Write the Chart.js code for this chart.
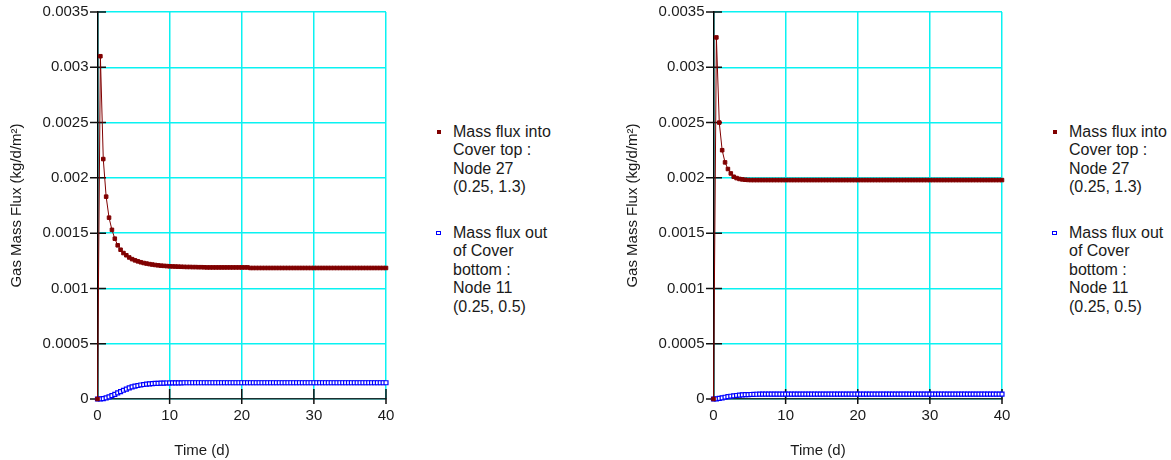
<!DOCTYPE html>
<html>
<head>
<meta charset="utf-8">
<script src="https://cdn.jsdelivr.net/npm/chart.js@4.4.1/dist/chart.umd.min.js"></script>
<style>
  html, body { margin: 0; padding: 0; background: #fff; }
  body { width: 1171px; height: 460px; position: relative; overflow: hidden;
         font-family: "Liberation Sans", Arial, sans-serif; color: #1a1a1a; }
  .panel { position: absolute; top: 0; width: 430px; height: 460px; }
  .panel canvas { position: absolute; left: 0; top: 0; }
  .entry { position: absolute; left: 453px; font-size: 16px; line-height: 18.6px; white-space: nowrap; }
  .mark { position: absolute; box-sizing: border-box; }
</style>
</head>
<body>
<div class="panel" id="panelA" style="left:0px"><canvas id="chartA" width="420" height="460"></canvas></div>
<div class="panel" id="panelB" style="left:616px"><canvas id="chartB" width="420" height="460"></canvas></div>
<script>
// Output times (days)
const timeDays = [
  0, 0.4, 0.8, 1.2, 1.6, 2, 2.4, 2.8, 3.2, 3.6,
  4, 4.4, 4.8, 5.2, 5.6, 6, 6.4, 6.8, 7.2, 7.6,
  8, 8.4, 8.8, 9.2, 9.6, 10, 10.4, 10.8, 11.2, 11.6,
  12, 12.4, 12.8, 13.2, 13.6, 14, 14.4, 14.8, 15.2, 15.6,
  16, 16.4, 16.8, 17.2, 17.6, 18, 18.4, 18.8, 19.2, 19.6,
  20, 20.4, 20.8, 21.2, 21.6, 22, 22.4, 22.8, 23.2, 23.6,
  24, 24.4, 24.8, 25.2, 25.6, 26, 26.4, 26.8, 27.2, 27.6,
  28, 28.4, 28.8, 29.2, 29.6, 30, 30.4, 30.8, 31.2, 31.6,
  32, 32.4, 32.8, 33.2, 33.6, 34, 34.4, 34.8, 35.2, 35.6,
  36, 36.4, 36.8, 37.2, 37.6, 38, 38.4, 38.8, 39.2, 39.6,
  40
];

// Case A: mass flux into cover top (node 27), kg/d/m²
const topFluxA = [
  0, 0.0031, 0.00217, 0.00183, 0.00164, 0.00153, 0.00145, 0.00139, 0.00135, 0.00132,
  0.0013, 0.00128, 0.001265, 0.001254, 0.001245, 0.001237, 0.00123, 0.001225, 0.00122, 0.001216,
  0.001212, 0.001209, 0.001206, 0.001204, 0.001202, 0.0012, 0.001199, 0.001198, 0.001197, 0.001196,
  0.001195, 0.001194, 0.001194, 0.001193, 0.001193, 0.001192, 0.001192, 0.001191, 0.00119, 0.00119,
  0.00119, 0.00119, 0.00119, 0.00119, 0.00119, 0.00119, 0.00119, 0.00119, 0.00119, 0.00119,
  0.00119, 0.00119, 0.00119, 0.001185, 0.001185, 0.001185, 0.001185, 0.001185, 0.001185, 0.001185,
  0.001185, 0.001185, 0.001185, 0.001185, 0.001185, 0.001185, 0.001185, 0.001185, 0.001185, 0.001185,
  0.001185, 0.001185, 0.001185, 0.001185, 0.001185, 0.001185, 0.001185, 0.001185, 0.001185, 0.001185,
  0.001185, 0.001185, 0.001185, 0.001185, 0.001185, 0.001185, 0.001185, 0.001185, 0.001185, 0.001185,
  0.001185, 0.001185, 0.001185, 0.001185, 0.001185, 0.001185, 0.001185, 0.001185, 0.001185, 0.001185,
  0.001185
];

// Case A: mass flux out of cover bottom (node 11), kg/d/m²
const bottomFluxA = [
  0, 0.000001, 0.000004, 0.00001, 0.000019, 0.00003, 0.000042, 0.000055, 0.000067, 0.000079,
  0.00009, 0.0001, 0.000109, 0.000116, 0.000122, 0.000127, 0.000131, 0.000134, 0.000137, 0.000139,
  0.000141, 0.000142, 0.000143, 0.000144, 0.000145, 0.000145, 0.000146, 0.000146, 0.000146, 0.000146,
  0.000147, 0.000147, 0.000147, 0.000147, 0.000147, 0.000147, 0.000147, 0.000147, 0.000147, 0.000147,
  0.000147, 0.000147, 0.000147, 0.000147, 0.000147, 0.000147, 0.000147, 0.000147, 0.000147, 0.000147,
  0.000147, 0.000147, 0.000147, 0.000147, 0.000147, 0.000147, 0.000147, 0.000147, 0.000147, 0.000147,
  0.000147, 0.000147, 0.000147, 0.000147, 0.000147, 0.000147, 0.000147, 0.000147, 0.000147, 0.000147,
  0.000147, 0.000147, 0.000147, 0.000147, 0.000147, 0.000147, 0.000147, 0.000147, 0.000147, 0.000147,
  0.000147, 0.000147, 0.000147, 0.000147, 0.000147, 0.000147, 0.000147, 0.000147, 0.000147, 0.000147,
  0.000147, 0.000147, 0.000147, 0.000147, 0.000147, 0.000147, 0.000147, 0.000147, 0.000147, 0.000147,
  0.000147
];

// Case B: mass flux into cover top (node 27), kg/d/m²
const topFluxB = [
  0, 0.00327, 0.0025, 0.00225, 0.00214, 0.00208, 0.00204, 0.00201, 0.001998, 0.00199,
  0.001986, 0.001983, 0.001981, 0.00198, 0.00198, 0.00198, 0.00198, 0.00198, 0.00198, 0.00198,
  0.00198, 0.00198, 0.00198, 0.00198, 0.00198, 0.00198, 0.00198, 0.00198, 0.00198, 0.00198,
  0.00198, 0.00198, 0.00198, 0.00198, 0.00198, 0.00198, 0.00198, 0.00198, 0.00198, 0.00198,
  0.00198, 0.00198, 0.00198, 0.00198, 0.00198, 0.00198, 0.00198, 0.00198, 0.00198, 0.00198,
  0.00198, 0.00198, 0.00198, 0.00198, 0.00198, 0.00198, 0.00198, 0.00198, 0.00198, 0.00198,
  0.00198, 0.00198, 0.00198, 0.00198, 0.00198, 0.00198, 0.00198, 0.00198, 0.00198, 0.00198,
  0.00198, 0.00198, 0.00198, 0.00198, 0.00198, 0.00198, 0.00198, 0.00198, 0.00198, 0.00198,
  0.00198, 0.00198, 0.00198, 0.00198, 0.00198, 0.00198, 0.00198, 0.00198, 0.00198, 0.00198,
  0.00198, 0.00198, 0.00198, 0.00198, 0.00198, 0.00198, 0.00198, 0.00198, 0.00198, 0.00198,
  0.00198
];

// Case B: mass flux out of cover bottom (node 11), kg/d/m²
const bottomFluxB = [
  0, 0.000001, 0.000005, 0.00001, 0.000016, 0.000021, 0.000025, 0.000029, 0.000032, 0.000035,
  0.000037, 0.000039, 0.00004, 0.000041, 0.000042, 0.000043, 0.000044, 0.000044, 0.000044, 0.000044,
  0.000044, 0.000044, 0.000044, 0.000044, 0.000044, 0.000044, 0.000044, 0.000044, 0.000044, 0.000044,
  0.000044, 0.000044, 0.000044, 0.000044, 0.000044, 0.000044, 0.000044, 0.000044, 0.000044, 0.000044,
  0.000044, 0.000044, 0.000044, 0.000044, 0.000044, 0.000044, 0.000044, 0.000044, 0.000044, 0.000044,
  0.000044, 0.000044, 0.000044, 0.000044, 0.000044, 0.000044, 0.000044, 0.000044, 0.000044, 0.000044,
  0.000044, 0.000044, 0.000044, 0.000044, 0.000044, 0.000044, 0.000044, 0.000044, 0.000044, 0.000044,
  0.000044, 0.000044, 0.000044, 0.000044, 0.000044, 0.000044, 0.000044, 0.000044, 0.000044, 0.000044,
  0.000044, 0.000044, 0.000044, 0.000044, 0.000044, 0.000044, 0.000044, 0.000044, 0.000044, 0.000044,
  0.000044, 0.000044, 0.000044, 0.000044, 0.000044, 0.000044, 0.000044, 0.000044, 0.000044, 0.000044,
  0.000044
];

// Axis ticks and labels
const xTickValues = [0, 10, 20, 30, 40];
const yTickValues = [0, 0.0005, 0.001, 0.0015, 0.002, 0.0025, 0.003, 0.0035];
const xAxisTitle = 'Time (d)';
const yAxisTitle = 'Gas Mass Flux (kg/d/m\u00B2)';
const topLabelLines = ['Mass flux into', 'Cover top :', 'Node 27', '(0.25, 1.3)'];
const bottomLabelLines = ['Mass flux out', 'of Cover', 'bottom :', 'Node 11', '(0.25, 0.5)'];

const FONT = '"Liberation Sans", Arial, sans-serif';
const TEXT = '#1a1a1a';
const GRID = '#0af2f2';
const RED = '#800000';
const BLUE = '#0000ff';

// Tick marks that cross the axes, plus the x-axis title
const axisMarks = {
  id: 'axisMarks',
  beforeDatasetsDraw(chart) {
    const { ctx, chartArea: a, scales: { x, y } } = chart;
    ctx.save();
    ctx.strokeStyle = '#111';
    ctx.lineWidth = 1.5;
    ctx.beginPath();
    y.ticks.forEach(t => {
      const py = y.getPixelForValue(t.value);
      ctx.moveTo(a.left - 7.5, py);
      ctx.lineTo(a.left + 8.5, py);
    });
    x.ticks.forEach(t => {
      if (t.value === 0) return;
      const px = x.getPixelForValue(t.value);
      ctx.moveTo(px, a.bottom - 10);
      ctx.lineTo(px, a.bottom + 5);
    });
    ctx.stroke();
    ctx.restore();
  },
  afterDraw(chart) {
    const { ctx } = chart;
    ctx.save();
    ctx.fillStyle = TEXT;
    ctx.font = '15px ' + FONT;
    ctx.textAlign = 'center';
    ctx.textBaseline = 'middle';
    ctx.fillText(xAxisTitle, 202, 451);
    ctx.restore();
  }
};

function toPoints(values) {
  return timeDays.map((t, i) => ({ x: t, y: values[i] }));
}

function buildPanel(canvasId, panelId, topFlux, bottomFlux) {
  new Chart(document.getElementById(canvasId), {
    type: 'line',
    data: {
      datasets: [
        {
          label: topLabelLines.join(' '),
          data: toPoints(topFlux),
          borderColor: RED,
          borderWidth: 1,
          backgroundColor: RED,
          pointStyle: 'rect',
          pointRadius: 2.5,
          pointBorderWidth: 1,
          pointBackgroundColor: RED,
          pointBorderColor: RED,
          tension: 0,
          clip: false
        },
        {
          label: bottomLabelLines.join(' '),
          data: toPoints(bottomFlux),
          borderColor: BLUE,
          borderWidth: 1,
          backgroundColor: '#ffffff',
          pointStyle: 'rect',
          pointRadius: 2.8,
          pointBorderWidth: 1.2,
          pointBackgroundColor: '#ffffff',
          pointBorderColor: BLUE,
          tension: 0,
          clip: false
        }
      ]
    },
    options: {
      responsive: false,
      animation: false,
      devicePixelRatio: 1,
      layout: { padding: { left: 0, top: 12, right: 34, bottom: 0 } },
      plugins: { legend: { display: false }, tooltip: { enabled: false } },
      scales: {
        x: {
          type: 'linear',
          min: 0,
          max: 40,
          afterBuildTicks: s => { s.ticks = xTickValues.map(v => ({ value: v })); },
          afterFit: s => { s.height = 61; },
          grid: { color: GRID, lineWidth: 1.5, drawTicks: false },
          border: { display: true, color: '#1c2f2f', width: 1.5 },
          ticks: { padding: 8, color: TEXT, font: { family: FONT, size: 15 }, maxRotation: 0 },
          title: { display: false }
        },
        y: {
          type: 'linear',
          min: 0,
          max: 0.0035,
          afterBuildTicks: s => { s.ticks = yTickValues.map(v => ({ value: v })); },
          afterFit: s => { s.width = 97.5; s.paddingTop = 0; s.paddingBottom = 0; },
          grid: { color: GRID, lineWidth: 1.5, drawTicks: false },
          border: { display: true, color: '#000', width: 1.5 },
          ticks: {
            padding: 9,
            color: TEXT,
            font: { family: FONT, size: 15 },
            callback: v => String(Number(v.toFixed(4)))
          },
          title: {
            display: true,
            text: yAxisTitle,
            color: TEXT,
            font: { family: FONT, size: 15 },
            padding: { top: 8, bottom: 0 }
          }
        }
      }
    },
    plugins: [axisMarks]
  });

  // Legend entries beside the plot
  const panel = document.getElementById(panelId);
  const entries = [
    { lines: topLabelLines, top: 122.5, mark: { left: 436.7, top: 129.5, size: 4, fill: RED, border: RED } },
    { lines: bottomLabelLines, top: 223.5, mark: { left: 436.3, top: 230.5, size: 4.6, fill: '#ffffff', border: BLUE } }
  ];
  entries.forEach(e => {
    const txt = document.createElement('div');
    txt.className = 'entry';
    txt.style.top = e.top + 'px';
    txt.innerHTML = e.lines.join('<br>');
    panel.appendChild(txt);
    const mk = document.createElement('div');
    mk.className = 'mark';
    mk.style.left = e.mark.left + 'px';
    mk.style.top = e.mark.top + 'px';
    mk.style.width = e.mark.size + 'px';
    mk.style.height = e.mark.size + 'px';
    mk.style.background = e.mark.fill;
    mk.style.border = '1px solid ' + e.mark.border;
    panel.appendChild(mk);
  });
}

buildPanel('chartA', 'panelA', topFluxA, bottomFluxA);
buildPanel('chartB', 'panelB', topFluxB, bottomFluxB);
</script>
</body>
</html>
